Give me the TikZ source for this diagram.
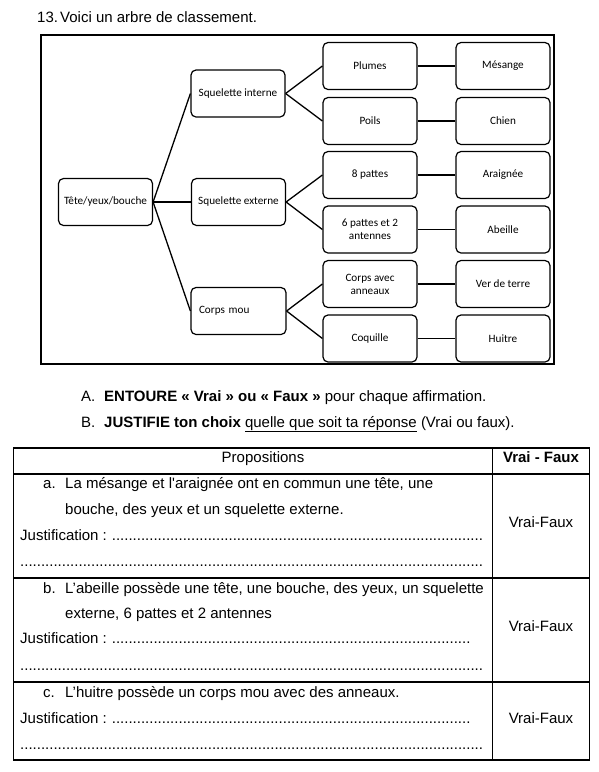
\documentclass[tikz,border=0pt]{standalone}
\usepackage{fontspec}
\setmainfont{Liberation Sans}
\newfontfamily\carlito{Carlito}
\newcommand\dotline[1]{\hbox to #1{\leaders\hbox{.}\hfill}}
\newcommand\justline[1]{\hbox to #1{Justification :\ \leaders\hbox{.}\hfill}}
\begin{document}
\begin{tikzpicture}[x=1pt,y=-1pt,
  tbox/.style={draw, line width=1.2pt, rounded corners=5pt, minimum width=94pt,
    minimum height=47pt, inner sep=2pt, align=center,
    font=\carlito\fontsize{11.2}{13}\selectfont},
  conn/.style={line width=1.3pt},
  txt/.style={anchor=base west, inner sep=0pt, font=\fontsize{15}{17}\selectfont},
  ctxt/.style={anchor=base, inner sep=0pt, font=\fontsize{15}{17}\selectfont},
  rule/.style={line width=1.1pt}]
\useasboundingbox (0,0) rectangle (598,772);
% title
\node[txt] (num) at (37,22) {13.};
\node[txt] (title) at (60,22) {Voici un arbre de classement.};
% frame
\draw[line width=2pt] (40.5,34.5) rectangle (554,364);
% tree
\node[tbox] (tete) at (105.5,202) {Tête/yeux/bouche};
\node[tbox] (si) at (238,93.5) {Squelette interne};
\node[tbox] (se) at (238.5,202) {Squelette externe};
\node[tbox, text width=79pt, inner xsep=8pt, align=left] (cm) at (238.5,311) {Corps mou};
\node[tbox] (plumes) at (370,66) {Plumes};
\node[tbox] (poils) at (370,121) {Poils};
\node[tbox] (p8) at (370,175) {8 pattes};
\node[tbox] (p6) at (370,229.5) {6 pattes et 2\\antennes};
\node[tbox] (anneaux) at (370,284) {Corps avec\\anneaux};
\node[tbox] (coquille) at (370,338.5) {Coquille};
\node[tbox] (mesange) at (503,66) {Mésange};
\node[tbox] (chien) at (503,121) {Chien};
\node[tbox] (araignee) at (503,175) {Araignée};
\node[tbox] (abeille) at (503,229.5) {Abeille};
\node[tbox] (ver) at (503,284) {Ver de terre};
\node[tbox] (huitre) at (503,338.5) {Huitre};
\draw[conn] (tete.east) -- (si.west);
\draw[conn] (tete.east) -- (se.west);
\draw[conn] (tete.east) -- (cm.west);
\draw[conn] (si.east) -- (plumes.west);
\draw[conn] (si.east) -- (poils.west);
\draw[conn] (se.east) -- (p8.west);
\draw[conn] (se.east) -- (p6.west);
\draw[conn] (cm.east) -- (anneaux.west);
\draw[conn] (cm.east) -- (coquille.west);
\draw[conn] (plumes.east) -- (mesange.west);
\draw[conn] (poils.east) -- (chien.west);
\draw[conn] (p8.east) -- (araignee.west);
\draw[conn] (p6.east) -- (abeille.west);
\draw[conn] (anneaux.east) -- (ver.west);
\draw[conn] (coquille.east) -- (huitre.west);
% instructions
\node[txt] (la) at (81,401) {A.};
\node[txt] (ta) at (104,401) {\bfseries ENTOURE « Vrai » ou « Faux »\mdseries{} pour chaque affirmation.};
\node[txt] (lb) at (81,427) {B.};
\node[txt] (tb) at (104,427) {\bfseries JUSTIFIE ton choix\mdseries{} \underline{quelle que soit ta réponse} (Vrai ou faux).};
% table
\draw[rule] (13.5,448) rectangle (589.5,760);
\draw[rule] (13.5,474) -- (589.5,474);
\draw[rule] (13.5,578) -- (589.5,578);
\draw[rule] (13.5,682) -- (589.5,682);
\draw[rule] (492.5,448) -- (492.5,760);
\node[ctxt] (hprop) at (263,462) {Propositions};
\node[ctxt] (hvf) at (541,462) {\bfseries Vrai - Faux};
% row a
\node[txt] (ma) at (43,488) {a.};
\node[txt] (a1) at (65,488) {\makebox[368pt][s]{La mésange et l\textquotesingle araignée ont en commun une tête, une}};
\node[txt] (a2) at (65,514) {bouche, des yeux et un squelette externe.};
\node[txt] (a3) at (20,540) {\justline{463pt}};
\node[txt] (a4) at (20,566) {\dotline{463pt}};
\node[ctxt] (vfa) at (541,527) {Vrai-Faux};
% row b
\node[txt] (mb) at (43,593) {b.};
\node[txt] (b1) at (65,593) {L’abeille possède une tête, une bouche, des yeux, un squelette};
\node[txt] (b2) at (65,618) {externe, 6 pattes et 2 antennes};
\node[txt] (b3) at (20,643) {\justline{454pt}};
\node[txt] (b4) at (20,670) {\dotline{463pt}};
\node[ctxt] (vfb) at (541,631) {Vrai-Faux};
% row c
\node[txt] (mc) at (43,697) {c.};
\node[txt] (c1) at (65,697) {L’huitre possède un corps mou avec des anneaux.};
\node[txt] (c3) at (20,723) {\justline{454pt}};
\node[txt] (c4) at (20,749) {\dotline{463pt}};
\node[ctxt] (vfc) at (541,723) {Vrai-Faux};
\end{tikzpicture}
\end{document}
